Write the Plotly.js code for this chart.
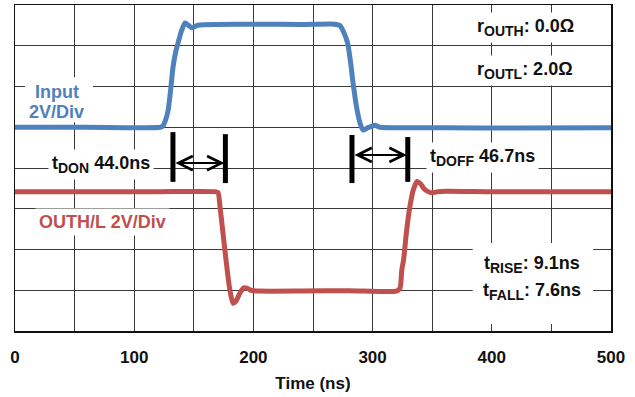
<!DOCTYPE html>
<html>
<head>
<meta charset="utf-8">
<script src="https://cdn.plot.ly/plotly-3.0.1.min.js"></script>
<style>html,body{margin:0;padding:0;background:#fff;}#chart{width:635px;height:397px;}</style>
</head>
<body>
<div id="chart"></div>
<script>
// Input waveform (time ns, divisions)
const inputTime = [0, 60, 122, 124, 126, 128.5, 130.5, 132.6, 134.8, 136.8, 139.5, 142.6, 145.5, 148.5, 152, 155, 170, 200, 240, 268, 272.6, 275.5, 279, 281.5, 283.6, 287, 290, 292, 296, 299, 302, 306, 320, 360, 420, 500];
const inputDiv  = [5.0, 5.0, 5.0, 5.03, 5.15, 5.42, 5.9, 6.48, 6.85, 7.07, 7.35, 7.56, 7.5, 7.44, 7.49, 7.51, 7.52, 7.53, 7.52, 7.53, 7.5, 7.35, 7.07, 6.6, 6.09, 5.42, 5.05, 4.93, 4.99, 5.02, 5.05, 5.0, 4.99, 4.99, 4.98, 4.99];
// OUTH/L waveform (time ns, divisions)
const outTime = [0, 60, 120, 168, 170.3, 172, 174.5, 177, 180, 182.9, 185.5, 189, 192, 194.6, 198, 204, 240, 280, 320, 323, 324.5, 326, 328.5, 331, 334, 337.3, 340, 343, 346.5, 350, 355, 362, 400, 450, 500];
const outDiv  = [3.42, 3.42, 3.42, 3.42, 3.40, 3.05, 2.4, 1.75, 1.05, 0.68, 0.74, 0.95, 1.06, 1.05, 1.0, 0.98, 0.98, 0.99, 0.98, 1.05, 1.5, 1.75, 2.45, 3.0, 3.45, 3.67, 3.62, 3.5, 3.42, 3.39, 3.42, 3.43, 3.42, 3.42, 3.42];

// Timing markers (ns)
const tdonMarks  = [132.5, 176.5];
const tdoffMarks = [282.7, 329.5];

// Axis ticks
const xTickVals  = [0, 100, 200, 300, 400, 500];
const xTickText  = ['0', '100', '200', '300', '400', '500'];
const xMinorStep = 50;
const yTickVals  = [0, 1, 2, 3, 4, 5, 6, 7, 8];

// Labels
const S = (s) => '<sub><span style="font-size:14px">' + s + '</span></sub>';
const labelInput1 = 'Input';
const labelInput2 = '2V/Div';
const labelOut    = 'OUTH/L 2V/Div';
const labelTdon   = 't' + S('DON') + ' 44.0ns';
const labelTdoff  = 't' + S('DOFF') + ' 46.7ns';
const labelROH    = 'r' + S('OUTH') + ': 0.0Ω';
const labelROL    = 'r' + S('OUTL') + ': 2.0Ω';
const labelRise   = 't' + S('RISE') + ': 9.1ns';
const labelFall   = 't' + S('FALL') + ': 7.6ns';

const BLUE = '#4F81BD', RED = '#C0504D';
const FONT = 'Liberation Sans, Arial, Helvetica, sans-serif';

const traces = [
  {x: inputTime, y: inputDiv, mode: 'lines', line: {color: BLUE, width: 5, shape: 'spline', smoothing: 0.6}, hoverinfo: 'skip'},
  {x: outTime, y: outDiv, mode: 'lines', line: {color: RED, width: 5, shape: 'spline', smoothing: 0.6}, hoverinfo: 'skip'}
];

function txt(text, x, y, color, xanchor) {
  return {text: text, x: x, y: y, xref: 'x', yref: 'y', showarrow: false,
    xanchor: xanchor || 'center', yanchor: 'middle',
    font: {family: FONT, size: 18, color: color, weight: 'bold'},
    bgcolor: 'rgba(255,255,255,1)', borderpad: 3};
}
function txtNoBg(text, x, y, color) {
  const a = txt(text, x, y, color);
  a.bgcolor = 'rgba(0,0,0,0)';
  return a;
}
function arrow(x0, x1, y) {
  return {x: x1, y: y, ax: x0, ay: y, xref: 'x', yref: 'y', axref: 'x', ayref: 'y',
    text: '', showarrow: true, arrowhead: 5, startarrowhead: 5, arrowside: 'end+start',
    arrowsize: 1.4, startarrowsize: 1.4, arrowwidth: 2, arrowcolor: '#000', standoff: 1, startstandoff: 1};
}
function bar(x, y0, y1) {
  return {type: 'line', xref: 'x', yref: 'y', x0: x, x1: x, y0: y0, y1: y1, line: {color: '#000', width: 5}};
}

const layout = {
  width: 635, height: 397,
  margin: {l: 15, r: 24, t: 5, b: 66},
  paper_bgcolor: '#fff', plot_bgcolor: '#fff',
  showlegend: false,
  xaxis: {
    range: [0, 500], tickmode: 'array', tickvals: xTickVals, ticktext: xTickText,
    showgrid: true, gridcolor: '#3a3a3a', gridwidth: 1, zeroline: false,
    minor: {dtick: xMinorStep, showgrid: true, gridcolor: '#3a3a3a', gridwidth: 1, ticks: ''},
    showline: true, mirror: true, linecolor: '#111', linewidth: 1.5, ticks: '',
    ticklabelstandoff: 10,
    tickfont: {family: FONT, size: 17, color: '#111', weight: 'bold'},
    title: {text: 'Time (ns)', font: {family: FONT, size: 17, color: '#111', weight: 'bold'}, standoff: 11}
  },
  yaxis: {
    range: [0, 8], tickmode: 'array', tickvals: yTickVals, showticklabels: false,
    showgrid: true, gridcolor: '#3a3a3a', gridwidth: 1, zeroline: false,
    showline: true, mirror: true, linecolor: '#111', linewidth: 1.5, ticks: ''
  },
  shapes: [
    {type: 'rect', xref: 'x', yref: 'y', x0: 8.4, x1: 65.4, y0: 5.12, y1: 6.23, fillcolor: '#fff', line: {width: 0}, layer: 'above'},
    {type: 'rect', xref: 'x', yref: 'y', x0: 384, x1: 485, y0: 0.17, y1: 2.16, fillcolor: '#fff', line: {width: 0}, layer: 'above'},
    bar(tdonMarks[0], 3.66, 4.88),
    bar(tdonMarks[1], 3.63, 4.83),
    bar(tdoffMarks[0], 3.63, 4.81),
    bar(tdoffMarks[1], 3.66, 4.76)
  ],
  annotations: [
    txtNoBg(labelInput1, 35, 5.86, BLUE),
    txtNoBg(labelInput2, 35, 5.38, BLUE),
    txt(labelOut, 73.4, 2.68, RED),
    txt(labelTdon, 72, 4.08, '#111'),
    txt(labelTdoff, 392, 4.27, '#111'),
    txt(labelROH, 428, 7.45, '#111'),
    txt(labelROL, 428, 6.40, '#111'),
    txtNoBg(labelRise, 434, 1.62, '#111'),
    txtNoBg(labelFall, 434, 0.96, '#111'),
    arrow(tdonMarks[0], tdonMarks[1], 4.12),
    arrow(tdoffMarks[0], tdoffMarks[1], 4.32)
  ]
};

Plotly.newPlot('chart', traces, layout, {staticPlot: true, displayModeBar: false});
</script>
</body>
</html>
